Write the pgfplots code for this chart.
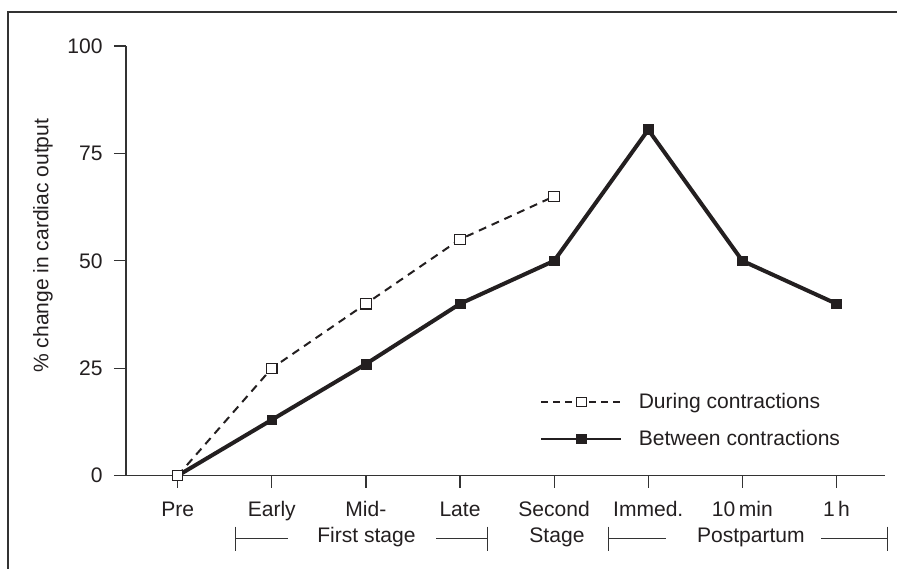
\documentclass[border=0pt]{standalone}
\usepackage{pgfplots}
\pgfplotsset{compat=1.18}
\usepackage{fontspec}
\setmainfont{Liberation Sans}
\definecolor{ink}{HTML}{231F20}
\definecolor{axc}{HTML}{333333}
\newcommand\fs{\fontsize{15.8}{18}\selectfont}
\begin{document}
\begin{tikzpicture}[font=\fs]
\begin{axis}[
  at={(0,0)}, anchor=south west,
  scale only axis, width=570pt, height=322.5pt,
  xmin=-0.55, xmax=7.52, ymin=0, ymax=100,
  axis x line=bottom, axis y line=left,
  axis line style={-, line width=0.9pt, color=axc},
  every tick/.style={line width=0.9pt, color=axc},
  tick align=outside, major tick length=9pt,
  xtick={0,1,2,3,4,5,6,7},
  xticklabels={Pre,Early,Mid-,Late,Second,Immed.,10\,min,1\,h},
  ytick={0,25,50,75,100},
  /pgf/number format/assume math mode=true,
  tick label style={font=\fs, text=ink},
  xticklabel style={yshift=-7pt},
  yticklabel style={xshift=-5pt},
  clip=false,
  legend cell align=left,
  legend style={draw=none, fill=none, inner sep=0pt, row sep=11pt,
    at={(axis cs:3.853,12.8)}, anchor=west, font=\fs, text=ink,
    nodes={inner sep=2pt}},
  legend image code/.code={\draw[mark repeat=2,mark phase=2,#1] plot coordinates {(0pt,0pt) (30pt,0pt) (60pt,0pt)};},
]
\addlegendimage{color=ink, line width=0.9pt, dash pattern=on 5pt off 4pt, mark=square*, mark size=3.6pt,
  mark options={solid, fill=white, draw=ink, line width=0.7pt}}
\addlegendentry{\hspace{10.5pt}During contractions}
\addlegendimage{color=ink, line width=1.2pt, mark=square*, mark size=3.4pt,
  mark options={solid, fill=ink, line width=0.5pt}}
\addlegendentry{\hspace{10.5pt}Between contractions}
\addplot[forget plot, color=ink, line width=3pt, mark=square*, mark size=3.7pt,
  mark options={solid, fill=ink, line width=0.5pt}]
  coordinates {(0,0) (1,13) (2,26) (3,40) (4,50) (5,80.5) (6,50) (7,40)};
\addplot[forget plot, color=ink, line width=1.5pt, dash pattern=on 6pt off 4.5pt, mark=square*, mark size=3.9pt,
  mark options={solid, fill=white, draw=ink, line width=0.8pt}]
  coordinates {(0,0) (1,25) (2,40) (3,55) (4,65)};
% second row of category labels
\node[anchor=base, text=ink] at (axis cs:2.006,-15.58) {First stage};
\node[anchor=base, text=ink] at (axis cs:4.03,-15.58) {Stage};
\node[anchor=base, text=ink] at (axis cs:6.09,-15.58) {Postpartum};
% brackets
\draw[line width=0.9pt, color=axc] (axis cs:0.616,-11.86) -- (axis cs:0.616,-17.44);
\draw[line width=0.9pt, color=axc] (axis cs:0.616,-14.65) -- (axis cs:1.168,-14.65);
\draw[line width=0.9pt, color=axc] (axis cs:2.75,-14.65) -- (axis cs:3.29,-14.65);
\draw[line width=0.9pt, color=axc] (axis cs:3.29,-11.86) -- (axis cs:3.29,-17.44);
\draw[line width=0.9pt, color=axc] (axis cs:4.575,-11.86) -- (axis cs:4.575,-17.44);
\draw[line width=0.9pt, color=axc] (axis cs:4.575,-14.65) -- (axis cs:5.19,-14.65);
\draw[line width=0.9pt, color=axc] (axis cs:6.84,-14.65) -- (axis cs:7.54,-14.65);
\draw[line width=0.9pt, color=axc] (axis cs:7.54,-11.86) -- (axis cs:7.54,-17.44);
\node[rotate=90, text=ink] at (axis cs:-1.433,53.5) {\% change in cardiac output};
\end{axis}
\draw[line width=0.9pt, color=axc] (-88.5pt,-69.75pt) -- (-88.5pt,348pt) -- (579pt,348pt);
\path[use as bounding box] (-94.5pt,-69.75pt) rectangle (579pt,357pt);
\end{tikzpicture}
\end{document}
